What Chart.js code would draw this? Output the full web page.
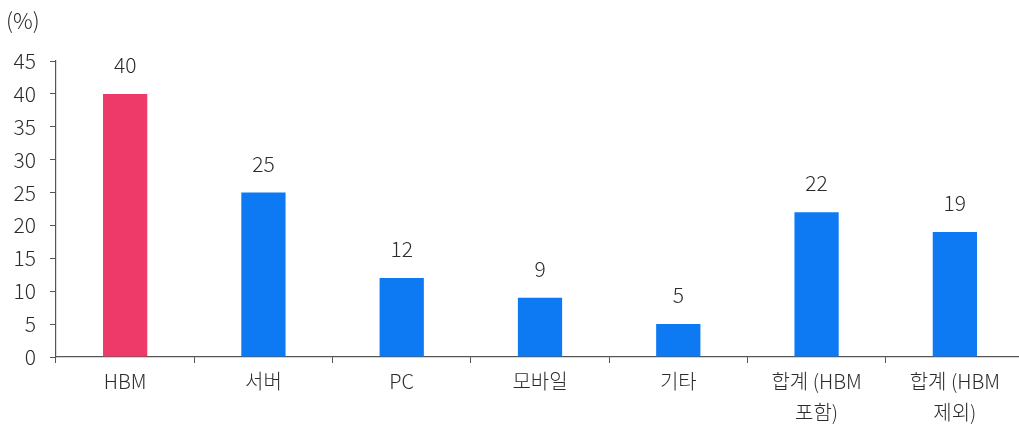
<!DOCTYPE html>
<html>
<head>
<meta charset="utf-8">
<script src="https://cdn.jsdelivr.net/npm/chart.js@4/dist/chart.umd.min.js"></script>
<style>
  html, body { margin: 0; padding: 0; background: #fff; overflow: hidden; }
  #wrap { width: 1019px; height: 430px; position: relative; overflow: hidden; }
  #bar-chart { position: absolute; left: 0; top: 0; }
</style>
</head>
<body>
<div id="wrap"><canvas id="bar-chart" width="1024" height="430"></canvas></div>
<script>
// categories and growth values (%)
const categories = [
  "HBM", "서버", "PC", "모바일", "기타",
  ["합계 (HBM", "포함)"], ["합계 (HBM", "제외)"]
];
const growth = [40, 25, 12, 9, 5, 22, 19];
const barColors = ["#EE3A68", "#0D79F2", "#0D79F2", "#0D79F2", "#0D79F2", "#0D79F2", "#0D79F2"];
const yTicks = [0, 5, 10, 15, 20, 25, 30, 35, 40, 45];

const FONT = "'Noto Sans CJK KR', 'Noto Sans', sans-serif";
const TEXT = "#2b2b2b";
const AXIS = "#555";

// value labels above bars + unit label top left
const labelPlugin = {
  id: "barLabels",
  afterDatasetsDraw(chart) {
    const ctx = chart.ctx;
    const meta = chart.getDatasetMeta(0);
    ctx.save();
    ctx.font = "300 21px " + FONT;
    ctx.fillStyle = TEXT;
    ctx.textAlign = "center";
    ctx.textBaseline = "alphabetic";
    meta.data.forEach((bar, i) => {
      ctx.fillText(String(growth[i]), bar.x, bar.y - 21);
    });
    ctx.font = "300 22px " + FONT;
    ctx.textAlign = "left";
    ctx.fillText("(%)", 6, 29);
    ctx.restore();
  }
};

new Chart(document.getElementById("bar-chart").getContext("2d"), {
  type: "bar",
  data: {
    labels: categories,
    datasets: [{
      data: growth,
      backgroundColor: barColors,
      borderWidth: 0,
      barPercentage: 0.64,
      categoryPercentage: 0.5
    }]
  },
  options: {
    responsive: false,
    animation: false,
    layout: { padding: { top: 61, right: 0, left: 0, bottom: 0 } },
    plugins: {
      legend: { display: false },
      tooltip: { enabled: false }
    },
    scales: {
      x: {
        grid: {
          offset: true,
          drawOnChartArea: false,
          drawTicks: true,
          tickLength: 6,
          color: AXIS
        },
        border: { color: AXIS, width: 1.2 },
        ticks: {
          color: TEXT,
          font: { family: FONT, size: 20, weight: 300, lineHeight: 1.55 },
          padding: 3,
          maxRotation: 0,
          autoSkip: false
        },
        afterFit(scale) { scale.height = 73; }
      },
      y: {
        min: 0,
        max: 45,
        afterBuildTicks(scale) { scale.ticks = yTicks.map(v => ({ value: v })); },
        grid: {
          drawOnChartArea: false,
          drawTicks: true,
          tickLength: 6,
          color: AXIS
        },
        border: { color: AXIS, width: 1.2 },
        ticks: {
          color: TEXT,
          font: { family: FONT, size: 21, weight: 300 },
          padding: 14
        },
        afterFit(scale) { scale.width = 56; }
      }
    }
  },
  plugins: [labelPlugin]
});
</script>
</body>
</html>
